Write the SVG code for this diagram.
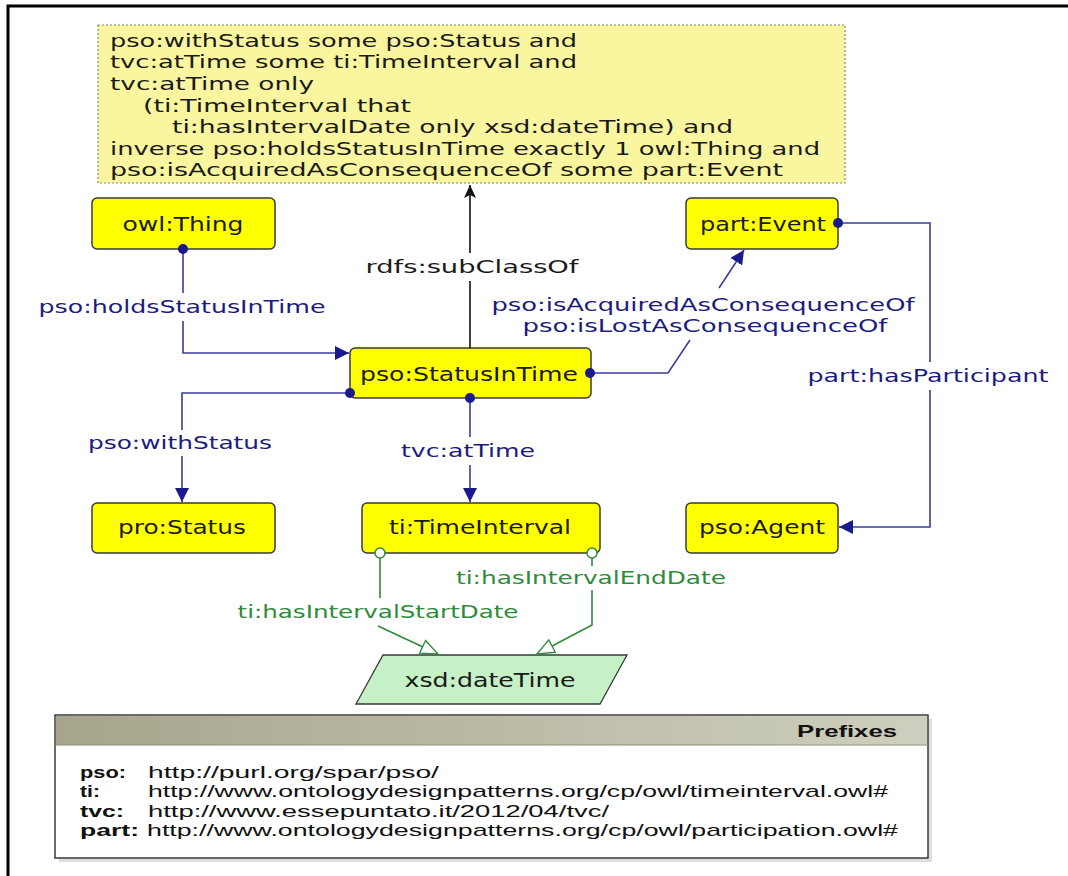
<svg xmlns="http://www.w3.org/2000/svg" width="1068" height="876" viewBox="0 0 1068 876">
<style>
.node rect{fill:#ffff00;stroke:#3a3a3a;stroke-width:1.5}
.nt{font-family:"DejaVu Sans",sans-serif;font-size:19px;fill:#1a1a1a;text-anchor:middle}
.bt{font-family:"DejaVu Sans",sans-serif;font-size:18px;fill:#1a1a1a}
.el{font-family:"DejaVu Sans",sans-serif;font-size:18px;fill:#1c1c80;text-anchor:middle}
.gl{font-family:"DejaVu Sans",sans-serif;font-size:18px;fill:#2e8b3a;text-anchor:middle}
.blk{font-family:"DejaVu Sans",sans-serif;font-size:18px;fill:#1a1a1a;text-anchor:middle}
.be{fill:none;stroke:#3b3ba0;stroke-width:1.6;marker-start:url(#dot);marker-end:url(#arr)}
.ge{fill:none;stroke:#2e8b3a;stroke-width:1.6;marker-start:url(#ocirc);marker-end:url(#otri)}
.pk{font-family:"Liberation Sans",sans-serif;font-size:17px;font-weight:bold;fill:#111}
.pu{font-family:"Liberation Sans",sans-serif;font-size:17px;fill:#111}
</style>
<defs>
<marker id="arr" markerUnits="userSpaceOnUse" markerWidth="16" markerHeight="14" refX="14" refY="7" orient="auto"><path d="M0,0 L14,7 L0,14 z" fill="#1a1a8c"/></marker>
<marker id="barr" markerUnits="userSpaceOnUse" markerWidth="16" markerHeight="14" refX="13" refY="6" orient="auto"><path d="M0,0 L13,6 L0,12 L3,6 z" fill="#111"/></marker>
<marker id="dot" markerUnits="userSpaceOnUse" markerWidth="12" markerHeight="12" refX="6" refY="6" orient="auto"><circle cx="6" cy="6" r="5" fill="#1a1a8c"/></marker>
<marker id="ocirc" markerUnits="userSpaceOnUse" markerWidth="14" markerHeight="14" refX="7" refY="7" orient="auto"><circle cx="7" cy="7" r="5" fill="#fff" stroke="#2e8b3a" stroke-width="1.5"/></marker>
<marker id="otri" markerUnits="userSpaceOnUse" markerWidth="20" markerHeight="16" refX="18" refY="8" orient="auto"><path d="M1,1 L18,8 L1,15 z" fill="#fff" stroke="#2e8b3a" stroke-width="1.3"/></marker>
<linearGradient id="hdr" x1="0" y1="0" x2="1" y2="0"><stop offset="0" stop-color="#a7a58b"/><stop offset="1" stop-color="#cfcfbf"/></linearGradient>
</defs>
<rect width="1068" height="876" fill="#fff"/>
<path d="M8,876 V6 H1068" fill="none" stroke="#000" stroke-width="3"/>

<g id="restriction">
<rect x="98" y="25" width="747" height="158" fill="#faf6a0" stroke="#8a8a70" stroke-width="1.2" stroke-dasharray="2,2"/>
<text class="bt" x="110" y="47" textLength="467" lengthAdjust="spacingAndGlyphs">pso:withStatus some pso:Status and</text>
<text class="bt" x="110" y="68" textLength="467" lengthAdjust="spacingAndGlyphs">tvc:atTime some ti:TimeInterval and</text>
<text class="bt" x="110" y="90" textLength="204" lengthAdjust="spacingAndGlyphs">tvc:atTime only</text>
<text class="bt" x="143" y="112" textLength="268" lengthAdjust="spacingAndGlyphs">(ti:TimeInterval that</text>
<text class="bt" x="172" y="133" textLength="561" lengthAdjust="spacingAndGlyphs">ti:hasIntervalDate only xsd:dateTime) and</text>
<text class="bt" x="110" y="155" textLength="710" lengthAdjust="spacingAndGlyphs">inverse pso:holdsStatusInTime exactly 1 owl:Thing and</text>
<text class="bt" x="110" y="176" textLength="673" lengthAdjust="spacingAndGlyphs">pso:isAcquiredAsConsequenceOf some part:Event</text>
</g>

<g id="owl-Thing" class="node"><rect x="92" y="198" width="183" height="51" rx="5"/><text class="nt" x="183" y="231" textLength="121" lengthAdjust="spacingAndGlyphs">owl:Thing</text></g>
<g id="part-Event" class="node"><rect x="686" y="198" width="152" height="51" rx="5"/><text class="nt" x="763" y="231" textLength="126" lengthAdjust="spacingAndGlyphs">part:Event</text></g>
<g id="pso-StatusInTime" class="node"><rect x="350" y="348" width="241" height="50" rx="5"/><text class="nt" x="469" y="381" textLength="218" lengthAdjust="spacingAndGlyphs">pso:StatusInTime</text></g>
<g id="pro-Status" class="node"><rect x="92" y="503" width="183" height="50" rx="5"/><text class="nt" x="182" y="534" textLength="128" lengthAdjust="spacingAndGlyphs">pro:Status</text></g>
<g id="ti-TimeInterval" class="node"><rect x="362" y="503" width="238" height="50" rx="5"/><text class="nt" x="480" y="534" textLength="182" lengthAdjust="spacingAndGlyphs">ti:TimeInterval</text></g>
<g id="pso-Agent" class="node"><rect x="686" y="503" width="152" height="50" rx="5"/><text class="nt" x="762" y="534" textLength="126" lengthAdjust="spacingAndGlyphs">pso:Agent</text></g>

<g id="xsd-dateTime">
<polygon points="383,655 627,655 600,704 356,704" fill="#c6f0c6" stroke="#3a3a3a" stroke-width="1.3"/>
<text class="nt" x="490" y="687" textLength="171" lengthAdjust="spacingAndGlyphs">xsd:dateTime</text>
</g>

<g id="connectors">
<path d="M470,348 V281 M470,253 V185" fill="none" stroke="#111" stroke-width="1.6" marker-end="url(#barr)"/>
<text class="blk" x="472" y="273" textLength="213" lengthAdjust="spacingAndGlyphs">rdfs:subClassOf</text>
<path class="be" d="M183,249 V293 M183,321 V353 H349"/>
<text class="el" x="182" y="313" textLength="287" lengthAdjust="spacingAndGlyphs">pso:holdsStatusInTime</text>
<path class="be" d="M350,393 H182 V430 M182,456 V502"/>
<text class="el" x="180" y="449" textLength="184" lengthAdjust="spacingAndGlyphs">pso:withStatus</text>
<path class="be" d="M470,398 V437 M470,465 V502"/>
<text class="el" x="468" y="457" textLength="134" lengthAdjust="spacingAndGlyphs">tvc:atTime</text>
<path class="be" d="M590,373 H668 L690,340 M719,288 L744,250"/>
<text class="el" x="703" y="311" textLength="423" lengthAdjust="spacingAndGlyphs">pso:isAcquiredAsConsequenceOf</text>
<text class="el" x="705" y="332" textLength="365" lengthAdjust="spacingAndGlyphs">pso:isLostAsConsequenceOf</text>
<path class="be" d="M838,223 H930 V362 M930,390 V527 H839"/>
<text class="el" x="928" y="382" textLength="241" lengthAdjust="spacingAndGlyphs">part:hasParticipant</text>
<path class="ge" d="M380,553 V598 M378,626 L438,654"/>
<text class="gl" x="378" y="618" textLength="281" lengthAdjust="spacingAndGlyphs">ti:hasIntervalStartDate</text>
<path class="ge" d="M592,553 V566 M592,590 V625 L537,654"/>
<text class="gl" x="591" y="584" textLength="270" lengthAdjust="spacingAndGlyphs">ti:hasIntervalEndDate</text>
</g>

<g id="prefixes">
<rect x="59" y="719" width="873" height="143" fill="#c8c8c8" opacity="0.6"/>
<rect x="55" y="715" width="873" height="143" fill="#fff" stroke="#3a3a3a" stroke-width="1.5"/>
<rect x="56" y="716" width="871" height="29" fill="url(#hdr)"/>
<line x1="55" y1="745" x2="928" y2="745" stroke="#8f8f80" stroke-width="1"/>
<text class="pk" x="897" y="737" text-anchor="end" textLength="100" lengthAdjust="spacingAndGlyphs" fill="#333">Prefixes</text>
<text class="pk" x="80" y="778" textLength="46" lengthAdjust="spacingAndGlyphs">pso:</text>
<text class="pu" x="148" y="778" textLength="291" lengthAdjust="spacingAndGlyphs">http://purl.org/spar/pso/</text>
<text class="pk" x="80" y="797" textLength="20" lengthAdjust="spacingAndGlyphs">ti:</text>
<text class="pu" x="148" y="797" textLength="740" lengthAdjust="spacingAndGlyphs">http://www.ontologydesignpatterns.org/cp/owl/timeinterval.owl#</text>
<text class="pk" x="80" y="817" textLength="44" lengthAdjust="spacingAndGlyphs">tvc:</text>
<text class="pu" x="148" y="817" textLength="461" lengthAdjust="spacingAndGlyphs">http://www.essepuntato.it/2012/04/tvc/</text>
<text class="pk" x="80" y="836" textLength="59" lengthAdjust="spacingAndGlyphs">part:</text>
<text class="pu" x="147" y="836" textLength="751" lengthAdjust="spacingAndGlyphs">http://www.ontologydesignpatterns.org/cp/owl/participation.owl#</text>
</g>
</svg>
